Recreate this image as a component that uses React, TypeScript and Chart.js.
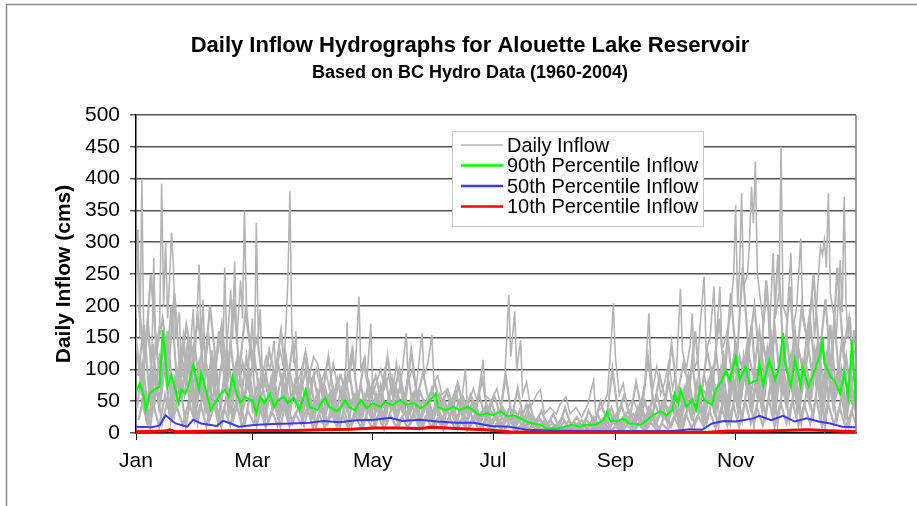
import { useEffect, useRef } from "react";
import { Chart, registerables } from "chart.js";

Chart.register(...registerables);

const FONT = '"Liberation Sans", Arial, Helvetica, sans-serif';

const titleText = "Daily Inflow Hydrographs for Alouette Lake Reservoir";
const subtitleText = "Based on BC Hydro Data (1960-2004)";
const yAxisTitle = "Daily Inflow (cms)";
const monthTickDays = [0, 59, 120, 181, 243, 304];
const monthTickLabels = ["Jan", "Mar", "May", "Jul", "Sep", "Nov"];
const seriesNames = ["Daily Inflow", "90th Percentile Inflow", "50th Percentile Inflow", "10th Percentile Inflow"];
const seriesColors = ["#b4b4b4", "#00ff00", "#3a3af0", "#ff0000"];

// 90th percentile [day, cms]
const p90 = [
  [0, 65], [2, 78], [4, 57], [5, 36], [7, 62], [10, 70], [12, 73], [13.5, 162], [15, 115], [16, 73], [18, 91], [20, 68],
  [21.5, 47], [23, 68], [25, 62], [26.5, 73], [29, 107], [30, 94], [32, 68], [33, 94], [35, 73], [37, 47], [38, 36],
  [41, 52], [43, 62], [45, 68], [47, 57], [49, 89], [51, 62], [53, 47], [55, 57], [58, 52], [59, 52], [61, 31], [63, 57],
  [65, 47], [68, 62], [70, 41], [72, 52], [75, 57], [77, 47], [80, 55], [83, 36], [86, 68], [88, 41], [92, 36], [94, 47],
  [96, 55], [98, 41], [102, 34], [104, 41], [106, 52], [108, 41], [111, 36], [114, 52], [117, 39], [120, 47], [124, 41],
  [126, 49], [130, 44], [134, 52], [137, 44], [141, 47], [144, 39], [147, 44], [152, 62], [153, 41], [157, 36], [161, 41],
  [164, 36], [168, 41], [171, 36], [174, 28], [178, 31], [181, 28], [185, 34], [188, 26], [191, 28], [195, 23], [198, 18],
  [201, 15], [205, 13], [208, 7], [213, 7], [218, 10], [221, 13], [225, 10], [228, 13], [233, 13], [237, 20], [239, 34],
  [240, 20], [244, 18], [247, 23], [250, 15], [256, 13], [259, 20], [262, 28], [266, 34], [269, 28], [272, 36], [273, 62],
  [275, 47], [276, 68], [279, 41], [282, 52], [284, 36], [286, 73], [288, 52], [292, 44], [294, 68], [297, 83], [299, 99],
  [301, 83], [304, 120], [306, 83], [309, 104], [311, 78], [315, 83], [316, 110], [318, 75], [321, 115], [324, 83],
  [326, 104], [328, 157], [329, 110], [332, 73], [334, 115], [337, 73], [338, 104], [341, 73], [343, 89], [347, 125],
  [348, 151], [349, 110], [352, 89], [354, 83], [357, 62], [359, 94], [361, 57], [363, 146], [365, 36],
];

// 50th percentile [day, cms]
const p50 = [
  [0, 10], [8, 9], [12, 12], [15, 28], [18, 20], [20, 15], [26, 10], [29, 21], [33, 15], [41, 11], [44, 19], [48, 15],
  [52, 10], [61, 13], [70, 14], [79, 15], [88, 16], [95, 19], [103, 17], [112, 20], [121, 21], [129, 24], [135, 19],
  [144, 21], [153, 18], [162, 16], [171, 16], [180, 11], [189, 10], [198, 5], [209, 4], [227, 3], [245, 3], [257, 3],
  [272, 3], [281, 6], [287, 5], [292, 15], [298, 19], [304, 18], [313, 23], [316, 27], [322, 20], [328, 27], [334, 18],
  [340, 23], [346, 18], [352, 15], [358, 10], [365, 9],
];

// 10th percentile [day, cms]
const p10 = [
  [0, 2], [15, 3], [17, 5], [20, 2], [40, 3], [61, 4], [80, 4], [94, 5], [109, 6], [121, 8], [133, 8], [144, 7], [150, 9],
  [162, 7], [177, 5], [189, 2], [200, 1], [220, 1], [260, 1], [290, 1], [300, 3], [320, 3], [340, 5], [355, 3], [365, 2],
];

// Daily inflow, storm peaks of individual years [day, cms]
const dailyPeaks = [
  [0, 180], [1, 320], [2, 150], [3, 398], [4, 120], [6, 160], [8, 110], [9, 275], [10, 130], [12, 170], [13, 392],
  [14, 200], [15, 300], [16, 180], [17, 240], [18, 315], [19, 260], [20, 150], [22, 190], [23, 90], [25, 120], [26, 90],
  [28, 150], [29, 195], [30, 120], [32, 265], [33, 140], [34, 210], [35, 110], [37, 150], [39, 80], [41, 130], [43, 160],
  [44, 120], [45, 260], [46, 130], [48, 225], [49, 150], [50, 270], [51, 140], [53, 240], [54, 180], [55, 350], [56, 200],
  [58, 130], [59, 180], [60, 100], [61, 330], [62, 150], [63, 195], [64, 90], [66, 120], [68, 100], [70, 145], [71, 90],
  [73, 130], [75, 100], [77, 240], [78, 380], [79, 160], [80, 110], [81, 160], [82, 80], [84, 100], [86, 130], [88, 90],
  [90, 120], [92, 110], [94, 80], [96, 100], [98, 70], [100, 110], [102, 75], [104, 90], [106, 60], [107, 175], [108, 80],
  [110, 130], [111, 90], [113, 215], [114, 100], [116, 120], [117, 80], [119, 172], [120, 60], [122, 80], [124, 100],
  [126, 70], [128, 90], [130, 60], [132, 110], [134, 70], [137, 157], [138, 80], [140, 100], [142, 70], [145, 157],
  [146, 90], [148, 110], [150, 154], [151, 80], [153, 90], [155, 60], [158, 70], [160, 50], [163, 80], [165, 50],
  [167, 100], [168, 40], [171, 70], [173, 50], [176, 115], [177, 60], [180, 50], [183, 70], [185, 40], [187, 90],
  [189, 217], [190, 120], [192, 191], [193, 100], [195, 146], [196, 60], [198, 80], [200, 40], [203, 60], [205, 68],
  [207, 30], [210, 40], [213, 30], [215, 45], [218, 57], [220, 30], [223, 40], [226, 25], [229, 45], [232, 83], [233, 30],
  [236, 40], [239, 60], [241, 150], [242, 204], [243, 120], [245, 60], [247, 78], [249, 40], [252, 52], [255, 30],
  [258, 80], [260, 188], [261, 100], [262, 70], [264, 104], [266, 60], [268, 80], [270, 110], [272, 70], [274, 100],
  [276, 227], [277, 130], [279, 100], [281, 140], [282, 188], [283, 100], [285, 120], [286, 170], [288, 246], [289, 130],
  [291, 150], [293, 230], [294, 140], [296, 230], [297, 130], [299, 150], [301, 180], [303, 250], [304, 358], [305, 200],
  [306, 260], [307, 377], [308, 230], [310, 250], [311, 300], [312, 387], [313, 330], [314, 427], [315, 250], [316, 225],
  [318, 170], [320, 230], [321, 150], [323, 283], [324, 180], [326, 220], [327, 450], [328, 200], [330, 180], [332, 283],
  [333, 160], [335, 200], [337, 306], [338, 180], [340, 150], [341, 180], [343, 209], [344, 150], [346, 250], [347, 293],
  [348, 280], [349, 303], [350, 260], [351, 377], [352, 220], [354, 180], [355, 150], [357, 272], [358, 190], [359, 372],
  [360, 200], [361, 150], [362, 183], [363, 130], [364, 162], [365, 120],
];

// Daily inflow of other years, read every 3 days
const dailyStep = 3;
const dailyYearA = [
  150, 60, 180, 40, 120, 90, 200, 70, 150, 50,
  130, 60, 100, 45, 160, 80, 140, 55, 110, 70,
  120, 50, 90, 40, 110, 60, 95, 45, 80, 35,
  90, 40, 70, 30, 85, 45, 100, 35, 75, 30,
  80, 30, 95, 40, 70, 35, 90, 30, 65, 40,
  70, 30, 55, 25, 65, 30, 45, 20, 60, 25,
  50, 20, 40, 15, 35, 20, 45, 12, 25, 10,
  20, 8, 25, 10, 18, 6, 22, 10, 30, 8,
  35, 12, 45, 15, 30, 20, 50, 18, 60, 25,
  80, 30, 60, 40, 110, 35, 90, 50, 130, 45,
  150, 60, 120, 80, 170, 55, 140, 90, 160, 70,
  150, 60, 130, 85, 170, 70, 140, 50, 180, 65,
  120, 45,
];
const dailyYearB = [
  90, 170, 50, 140, 70, 160, 45, 110, 80, 140,
  55, 150, 70, 120, 40, 130, 65, 100, 50, 140,
  45, 100, 60, 85, 35, 120, 50, 75, 40, 90,
  35, 80, 45, 70, 25, 90, 40, 65, 30, 80,
  35, 75, 30, 85, 40, 60, 30, 70, 35, 55,
  25, 60, 35, 50, 20, 55, 30, 45, 20, 40,
  30, 15, 35, 20, 25, 10, 30, 15, 20, 8,
  15, 5, 18, 8, 12, 20, 6, 25, 10, 15,
  40, 10, 25, 35, 15, 40, 20, 55, 30, 45,
  35, 70, 45, 90, 30, 75, 60, 100, 40, 120,
  70, 140, 60, 130, 90, 160, 70, 150, 60, 140,
  80, 160, 65, 150, 90, 130, 70, 170, 60, 150,
  55, 130,
];
const dailyYearC = [
  120, 30, 100, 60, 140, 35, 90, 55, 130, 40,
  110, 35, 90, 60, 120, 30, 95, 50, 120, 40,
  80, 30, 70, 50, 90, 30, 70, 55, 100, 25,
  65, 30, 60, 20, 70, 35, 55, 25, 60, 30,
  60, 25, 55, 35, 75, 25, 60, 40, 50, 20,
  45, 20, 40, 30, 50, 15, 40, 25, 35, 15,
  25, 10, 30, 12, 20, 8, 28, 10, 15, 5,
  10, 4, 12, 5, 15, 3, 12, 6, 20, 5,
  25, 8, 30, 10, 35, 12, 40, 15, 30, 20,
  55, 20, 70, 30, 60, 25, 80, 35, 90, 30,
  100, 40, 120, 50, 100, 45, 130, 40, 110, 55,
  120, 40, 110, 55, 130, 45, 120, 60, 100, 35,
  90, 30,
];
const dailyYearD = [
  200, 110, 250, 130, 180, 100, 220, 90, 170, 120,
  180, 90, 200, 110, 170, 80, 210, 100, 190, 120,
  150, 70, 130, 90, 160, 70, 140, 60, 120, 80,
  100, 60, 120, 50, 90, 70, 130, 50, 110, 60,
  90, 50, 120, 60, 100, 45, 130, 55, 95, 50,
  80, 40, 65, 35, 75, 30, 60, 40, 85, 30,
  60, 30, 90, 25, 70, 20, 45, 15, 35, 12,
  30, 10, 40, 12, 25, 8, 35, 15, 50, 20,
  100, 30, 60, 25, 80, 35, 120, 40, 90, 50,
  140, 60, 110, 70, 160, 55, 130, 80, 180, 90,
  220, 110, 260, 130, 200, 100, 240, 120, 280, 110,
  230, 100, 200, 140, 250, 120, 210, 90, 260, 130,
  180, 80,
];
const dailyYearE = [
  40, 110, 20, 90, 50, 130, 30, 100, 60, 120,
  35, 100, 25, 110, 50, 90, 30, 120, 45, 95,
  30, 80, 40, 95, 25, 75, 45, 90, 30, 70,
  25, 75, 35, 60, 20, 70, 40, 55, 25, 65,
  20, 60, 35, 70, 25, 55, 40, 65, 20, 50,
  20, 50, 30, 45, 15, 55, 25, 40, 15, 45,
  12, 35, 20, 40, 10, 30, 15, 25, 8, 20,
  4, 15, 6, 20, 3, 12, 8, 18, 5, 25,
  10, 30, 8, 25, 15, 45, 10, 35, 20, 50,
  25, 60, 20, 70, 35, 55, 25, 85, 40, 95,
  35, 110, 50, 130, 40, 100, 60, 140, 45, 120,
  50, 125, 40, 110, 60, 140, 35, 120, 55, 100,
  30, 90,
];
const dailyYearF = [
  70, 25, 140, 45, 110, 20, 95, 65, 150, 30,
  85, 40, 130, 20, 75, 55, 105, 25, 90, 35,
  65, 20, 85, 35, 60, 20, 80, 30, 55, 25,
  50, 20, 65, 30, 45, 15, 60, 30, 50, 20,
  45, 15, 55, 25, 50, 20, 60, 15, 45, 25,
  40, 10, 45, 20, 35, 12, 50, 18, 30, 10,
  30, 8, 25, 12, 35, 6, 20, 10, 18, 4,
  12, 3, 10, 5, 14, 2, 16, 4, 22, 6,
  20, 5, 28, 10, 40, 8, 30, 12, 45, 15,
  50, 15, 65, 25, 80, 20, 70, 30, 100, 25,
  90, 30, 110, 40, 85, 35, 125, 30, 100, 45,
  110, 35, 95, 45, 120, 30, 105, 40, 90, 25,
  80, 20,
];
const dailyYearG = [
  20, 60, 10, 75, 15, 55, 25, 80, 10, 65,
  15, 70, 20, 50, 10, 65, 20, 55, 15, 70,
  12, 50, 18, 45, 10, 55, 15, 40, 12, 50,
  10, 45, 15, 40, 8, 50, 12, 35, 10, 45,
  10, 40, 15, 45, 10, 35, 15, 40, 8, 35,
  8, 30, 12, 35, 6, 30, 10, 25, 5, 30,
  5, 20, 8, 18, 4, 15, 6, 12, 3, 10,
  2, 8, 3, 10, 1, 6, 3, 8, 2, 12,
  4, 15, 5, 18, 6, 20, 8, 25, 5, 30,
  10, 35, 8, 45, 12, 40, 15, 55, 10, 60,
  15, 70, 20, 85, 12, 75, 25, 90, 15, 80,
  20, 85, 15, 70, 25, 95, 10, 80, 20, 65,
  10, 55,
];
const dailyYearH = [
  55, 15, 45, 10, 60, 20, 40, 12, 50, 18,
  45, 10, 55, 15, 40, 12, 50, 10, 35, 15,
  40, 8, 35, 12, 45, 10, 30, 15, 40, 8,
  30, 8, 35, 10, 28, 6, 32, 10, 25, 8,
  28, 5, 30, 10, 25, 8, 32, 6, 26, 10,
  22, 5, 25, 8, 20, 4, 24, 6, 18, 4,
  14, 3, 12, 5, 10, 2, 12, 4, 8, 2,
  5, 1, 6, 2, 4, 1, 7, 2, 9, 2,
  10, 3, 12, 4, 15, 3, 18, 5, 14, 6,
  25, 6, 30, 8, 28, 10, 35, 8, 40, 12,
  45, 10, 50, 15, 40, 12, 55, 10, 48, 15,
  50, 12, 45, 15, 55, 10, 48, 14, 40, 8,
  35, 6,
];
const dailyYears = [dailyYearA, dailyYearB, dailyYearC, dailyYearD, dailyYearE, dailyYearF, dailyYearG, dailyYearH];
const dailyYearOffsets = [0, 1, 2, 1.5, 0.5, 2.5, 1.25, 2.75];

const pairs = (list: number[][]) => list.map(([x, y]) => ({ x, y }));
const stepped = (values: number[], offset: number) =>
  values.map((y, i) => ({ x: offset + i * dailyStep, y }));

const decorPlugin = {
  id: "decor",
  beforeDraw(chart: any) {
    const ctx = chart.ctx;
    ctx.save();
    ctx.fillStyle = "#ffffff";
    ctx.fillRect(0, 0, chart.width, chart.height);
    ctx.strokeStyle = "#8a8a8a";
    ctx.lineWidth = 1.5;
    ctx.beginPath();
    ctx.moveTo(6.5, chart.height);
    ctx.lineTo(6.5, 4.5);
    ctx.lineTo(chart.width, 4.5);
    ctx.stroke();
    ctx.fillStyle = "#000";
    ctx.textAlign = "center";
    ctx.textBaseline = "middle";
    ctx.font = `bold 22px ${FONT}`;
    ctx.fillText(titleText, 470, 46);
    ctx.font = `bold 18px ${FONT}`;
    ctx.fillText(subtitleText, 470, 73);
    ctx.restore();
  },
  afterDraw(chart: any) {
    const ctx = chart.ctx;
    const { right, top, bottom } = chart.chartArea;
    ctx.save();
    ctx.strokeStyle = "#808080";
    ctx.lineWidth = 1.5;
    ctx.beginPath();
    ctx.moveTo(right, top);
    ctx.lineTo(right, bottom);
    ctx.stroke();
    // legend
    const bx = 452.5, by = 131.5, bw = 251, bh = 95;
    ctx.fillStyle = "#ffffff";
    ctx.fillRect(bx, by, bw, bh);
    ctx.strokeStyle = "#c8c8c8";
    ctx.lineWidth = 1;
    ctx.strokeRect(bx, by, bw, bh);
    ctx.font = `20px ${FONT}`;
    ctx.textAlign = "left";
    ctx.textBaseline = "middle";
    seriesNames.forEach((name, i) => {
      const cy = 145 + i * 20.5;
      ctx.strokeStyle = seriesColors[i];
      ctx.lineWidth = i === 0 ? 1.5 : 2.5;
      ctx.beginPath();
      ctx.moveTo(461, cy);
      ctx.lineTo(503, cy);
      ctx.stroke();
      ctx.fillStyle = "#000";
      ctx.fillText(name, 507, cy + 1);
    });
    ctx.restore();
  },
};

export default function App() {
  const canvasRef = useRef<HTMLCanvasElement | null>(null);

  useEffect(() => {
    const canvas = canvasRef.current;
    if (!canvas) return;
    const greyYears = dailyYears.map((vals, k) => ({
      label: seriesNames[0],
      data: stepped(vals, dailyYearOffsets[k]),
      borderColor: seriesColors[0],
      borderWidth: 2.2,
      pointRadius: 0,
      tension: 0,
      order: 10 + k,
    }));
    const chart = new Chart(canvas, {
      type: "line",
      data: {
        datasets: [
          { label: seriesNames[3], data: pairs(p10), borderColor: seriesColors[3], borderWidth: 3, pointRadius: 0, order: 0 },
          { label: seriesNames[2], data: pairs(p50), borderColor: seriesColors[2], borderWidth: 2, pointRadius: 0, order: 1 },
          { label: seriesNames[1], data: pairs(p90), borderColor: seriesColors[1], borderWidth: 2, pointRadius: 0, order: 2 },
          {
            label: seriesNames[0],
            data: pairs(dailyPeaks),
            borderColor: seriesColors[0],
            borderWidth: 1.6,
            pointRadius: 0,
            order: 5,
          },
          ...greyYears,
        ],
      },
      options: {
        responsive: false,
        animation: false,
        layout: { padding: { left: 0, right: 61, top: 115, bottom: 0 } },
        plugins: {
          legend: { display: false },
          title: { display: false },
          tooltip: { enabled: false },
        },
        scales: {
          x: {
            type: "linear",
            min: 0,
            max: 365,
            afterBuildTicks: (axis: any) => {
              axis.ticks = monthTickDays.map((v) => ({ value: v }));
            },
            afterFit: (axis: any) => {
              axis.height = 73;
            },
            ticks: {
              autoSkip: false,
              maxRotation: 0,
              padding: 9,
              color: "#000",
              font: { family: FONT, size: 21 },
              callback: (value: any) => {
                const i = monthTickDays.indexOf(Number(value));
                return i >= 0 ? monthTickLabels[i] : "";
              },
            },
            grid: { drawOnChartArea: false, drawTicks: true, tickLength: 7, color: "#000", lineWidth: 1 },
            border: { display: true, color: "#000", width: 1.5 },
          },
          y: {
            type: "linear",
            min: 0,
            max: 500,
            afterFit: (axis: any) => {
              axis.width = 136;
            },
            ticks: {
              stepSize: 50,
              padding: 10,
              color: "#000",
              font: { family: FONT, size: 21 },
            },
            grid: { color: "#555555", lineWidth: 1.5, tickLength: 6 },
            border: { display: true, color: "#000", width: 1.5 },
            title: {
              display: true,
              text: yAxisTitle,
              color: "#000",
              font: { family: FONT, size: 21, weight: "bold" },
              padding: { top: 52, bottom: 0 },
            },
          },
        },
      },
      plugins: [decorPlugin],
    });
    return () => chart.destroy();
  }, []);

  return (
    <div style={{ position: "absolute", left: 0, top: 0, width: 917, height: 506, background: "#fff" }}>
      <canvas ref={canvasRef} width={917} height={506} style={{ display: "block", width: 917, height: 506 }} />
    </div>
  );
}
